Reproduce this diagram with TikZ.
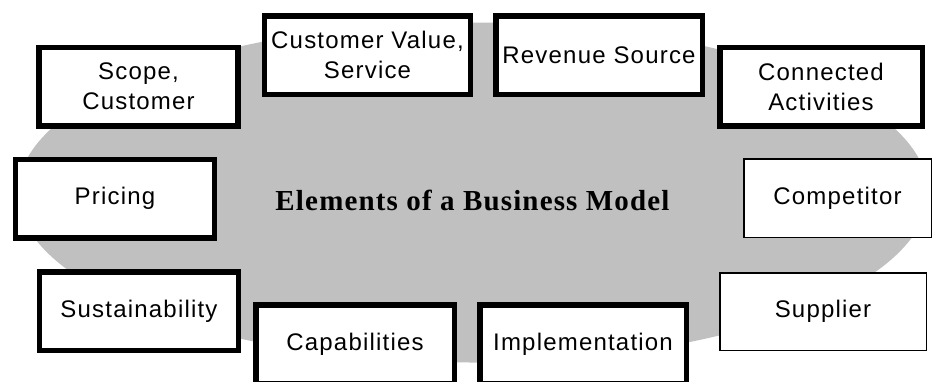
\documentclass[tikz,border=0pt]{standalone}
\usepackage{fontspec}
\setmainfont{Liberation Sans}
\newfontfamily\elemfont[LetterSpace=5]{Liberation Sans}
\newfontfamily\headfont[LetterSpace=4]{Liberation Serif}
\usepackage{tikz}

\definecolor{blobgray}{RGB}{192,192,192}
\tikzset{
  elem/.style = {draw, line width=5.5bp, fill=white, inner sep=0pt, align=center,
    minimum width=198.5bp, minimum height=78.5bp,
    font=\elemfont\fontsize{24bp}{30bp}\selectfont},
  thinelem/.style = {elem, line width=1.5bp},
}

\begin{document}
\begin{tikzpicture}[x=1bp, y=-1bp]
    \useasboundingbox (0,0) rectangle (933,381);
    \clip (0,0) rectangle (933,381);
    \coordinate (mid) at (473,192.5);
    \fill[blobgray] (mid) ellipse (455 and 170);
    \node[font=\headfont\bfseries\fontsize{29bp}{34bp}\selectfont, anchor=base] (title) at (472.5,210) {Elements of a Business Model};
    \node[elem] (scope) at (138.5,86.5) {Scope,\\Customer};
    \node[elem, minimum width=206bp] (value) at (367.5,55) {Customer Value,\\Service};
    \node[elem, minimum width=206.5bp] (revenue) at (599,55) {Revenue Source};
    \node[elem, minimum width=202.5bp] (connected) at (821,86.5) {Connected\\Activities};
    \node[elem] (pricing) at (115,198.5) {Pricing};
    \node[thinelem, minimum width=187.5bp] (competitor) at (837.5,198) {Competitor};
    \node[elem] (sustain) at (139,311) {Sustainability};
    \node[thinelem, minimum width=206.5bp, minimum height=77.5bp] (supplier) at (823,311.5) {Supplier};
    \node[elem] (capab) at (355,344) {Capabilities};
    \node[elem, minimum width=206.5bp] (implement) at (583,344) {Implementation};
\end{tikzpicture}
\end{document}
